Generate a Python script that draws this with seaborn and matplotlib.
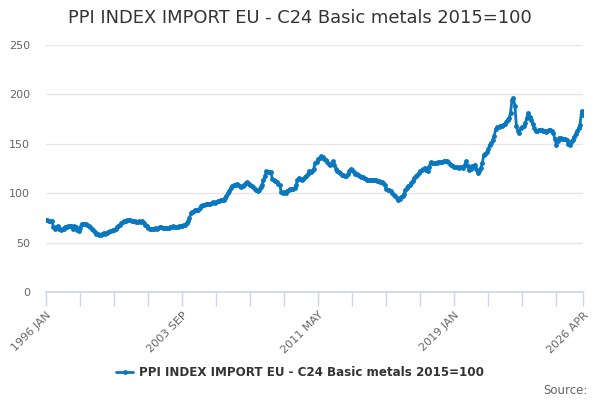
import matplotlib
matplotlib.use("Agg")
import matplotlib.pyplot as plt
import numpy as np
import pandas as pd
import seaborn as sns

TITLE = "PPI INDEX IMPORT EU - C24 Basic metals 2015=100"
SERIES_NAME = "PPI INDEX IMPORT EU - C24 Basic metals 2015=100"
START_YEAR = 1996
MONTHS = ["JAN", "FEB", "MAR", "APR", "MAY", "JUN",
          "JUL", "AUG", "SEP", "OCT", "NOV", "DEC"]

# monthly index values
VALUES_1996_2005 = [
  72.5, 72.5, 72, 72, 71.5, 66, 64, 66, 66.4, 64, 62.3, 63.5,
  64, 65.5, 66, 66.4, 66.8, 67, 63.8, 66.4, 65.5, 63, 61.3, 65,
  68.8, 68.8, 68.5, 68.8, 68, 66.4, 65.5, 64, 63, 61, 59, 58.3,
  57.3, 57.5, 58.5, 59.7, 59, 60, 60.5, 61.3, 61.5, 62.3, 63, 64,
  65.5, 66.5, 68, 69.5, 70.5, 71.5, 72, 72.5, 73.2, 72.8, 72, 71.5,
  71.5, 71, 71.2, 71.5, 71, 71.5, 70, 67.5, 66.4, 65, 64, 64.2,
  63.8, 64, 64.5, 64, 65, 65.8, 65.5, 65, 64.8, 65, 64.8, 65,
  65.5, 66, 66.4, 66, 65.5, 65.8, 66.4, 66.8, 67, 68, 68.1, 69.8,
  71.5, 75, 80, 81, 82, 83.3, 82.5, 83.3, 85, 87.5, 88.4, 88,
  88.6, 89.4, 89, 89.5, 90, 90.7, 90.5, 91, 91.8, 92, 92.7, 93,
]
VALUES_2006_2015 = [
  93.5, 95.1, 97, 100.2, 102.5, 105.5, 107, 108, 108.5, 109.6, 108.5, 107.5,
  106.3, 107, 108.5, 110, 110.9, 109.5, 108, 106.9, 106, 104.2, 103, 101.8,
  103, 106, 108.6, 113, 117.7, 122.1, 121.5, 121.8, 121.1, 114.4, 113, 112,
  110.9, 109.8, 108.6, 100.8, 100.5, 101, 100.2, 102, 103.5, 104.2, 104, 104.5,
  105.3, 108, 113, 115.4, 114, 113.8, 114.4, 116, 117, 119, 122.1, 121.5,
  122.1, 125, 130.6, 132, 134.6, 135.8, 137.2, 136.5, 135, 133.9, 132, 130,
  128.8, 130, 132.2, 129, 125, 122.1, 121, 120, 118.7, 118, 117.5, 117,
  119, 122, 124.5, 123, 121.5, 119.7, 119, 118, 117, 116.5, 116, 115,
  114.5, 113.7, 113.5, 113.8, 113.2, 113.5, 113, 113.2, 112.5, 112, 110.9, 111.5,
  110.5, 108.6, 104.2, 103.5, 102.8, 101.8, 100.5, 98.5, 97, 95.5, 93.4, 94.5,
]
VALUES_2016_2026 = [
  96, 96.8, 99, 103.5, 105, 106.9, 108, 110.3, 112.5, 115, 117, 118.5,
  120, 122.1, 123.5, 124, 125.5, 123.5, 122.1, 127, 131.2, 130.8, 130.5, 130.6,
  131, 131.3, 131.5, 131.2, 132, 132.5, 132.9, 133, 131.2, 130, 128.5, 127.8,
  127, 126.1, 126.5, 126, 126.2, 126.5, 125.5, 128.5, 132.2, 128, 123.8, 125,
  127.1, 128, 128.8, 124, 120.4, 122, 125.5, 131, 139, 140, 141.5, 145,
  149.1, 151, 154.1, 158, 165, 166.5, 167, 167.6, 168.5, 169, 170, 172,
  174.4, 176.1, 181, 194.6, 196.4, 187.9, 167.6, 163, 160.9, 166, 166.5, 167.6,
  171, 176.1, 181.2, 177, 174.4, 170, 166, 162.6, 163, 164, 164.3, 163.5,
  163, 162.6, 162, 163, 164, 164.3, 163, 160.9, 155, 149.1, 153, 155.9,
  155.5, 154.9, 155, 154.5, 154.1, 150, 149.1, 152, 154.1, 157, 160, 162.6,
  166, 169.3, 182.8, 179.5,
]

LINE_COLOR = "#0a78be"


def month_label(i: int) -> str:
  return f"{START_YEAR + i // 12} {MONTHS[i % 12]}"


def build_frame() -> pd.DataFrame:
  values = VALUES_1996_2005 + VALUES_2006_2015 + VALUES_2016_2026
  return pd.DataFrame({"idx": np.arange(len(values)), "value": values})


def plot(df: pd.DataFrame) -> None:
  sns.set_theme(style="white")
  plt.rcParams["font.family"] = ["DejaVu Sans"]

  fig = plt.figure(figsize=(6, 4), dpi=100)
  ax = fig.add_axes([46 / 600, 1 - 292 / 400, 537 / 600, 247 / 400])

  sns.lineplot(data=df, x="idx", y="value", ax=ax, color=LINE_COLOR,
               linewidth=2, marker="o", markersize=3.5, markeredgewidth=0,
               label=SERIES_NAME, legend=False)

  last = len(df) - 1
  ax.set_xlim(0, last)
  ax.set_ylim(0, 250)
  ax.set_yticks(range(0, 251, 50))
  ax.yaxis.grid(True, color="#e6e6e6", linewidth=1)
  ax.xaxis.grid(False)

  minor = list(range(0, last, 23)) + [last]
  ax.set_xticks(minor, minor=True)
  major = [0, 92, 184, 276, last]
  ax.set_xticks(major)
  ax.set_xticklabels([month_label(i) for i in major], rotation=45,
                     ha="right", va="top", rotation_mode="anchor")
  ax.tick_params(axis="x", which="both", length=10, width=1, color="#ccd6eb",
                 labelsize=8, labelcolor="#666666", direction="out", pad=3,
                 bottom=True)
  ax.tick_params(axis="y", length=0, labelsize=8, labelcolor="#666666", pad=11.5)

  for side in ["top", "right", "left"]:
    ax.spines[side].set_visible(False)
  ax.spines["bottom"].set_color("#ccd6eb")
  ax.set_xlabel("")
  ax.set_ylabel("")

  fig.text(0.5, 1 - 18 / 400, TITLE, ha="center", va="center",
           fontsize=12.9, color="#333333")

  handles, labels = ax.get_legend_handles_labels()
  fig.legend(handles, labels, loc="center", bbox_to_anchor=(0.5, 1 - 373 / 400),
             frameon=False, handlelength=1.4, handletextpad=0.5,
             prop={"weight": "bold", "size": 8.6}, labelcolor="#333333")

  fig.text(588 / 600, 1 - 390 / 400, "Source:", ha="right", va="center",
           fontsize=8.5, color="#666666")

  fig.savefig("out.png", dpi=100)
  plt.close(fig)


def main():
  plot(build_frame())


if __name__ == "__main__":
  main()
